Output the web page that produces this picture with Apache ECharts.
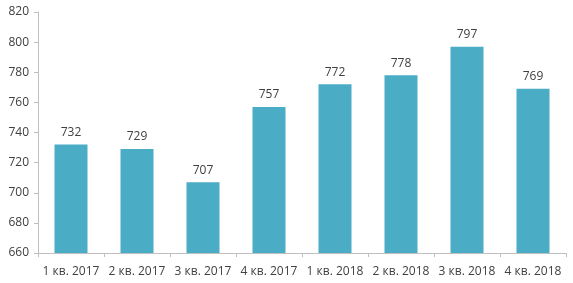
<!DOCTYPE html>
<html><head><meta charset="utf-8">
<script src="https://cdn.jsdelivr.net/npm/echarts@6/dist/echarts.min.js"></script>
<style>html,body{margin:0;padding:0;background:#fff}#c{width:573px;height:283px}</style>
</head><body><div id="c"></div>
<script>
const categories = ["1 кв. 2017","2 кв. 2017","3 кв. 2017","4 кв. 2017","1 кв. 2018","2 кв. 2018","3 кв. 2018","4 кв. 2018"];
const values = [732, 729, 707, 757, 772, 778, 797, 769];
const yMin = 660, yMax = 820, yStep = 20;

const chart = echarts.init(document.getElementById('c'), null, {renderer:'canvas'});
const font = "'Open Sans', 'Noto Sans', sans-serif";
chart.setOption({
  animation:false,
  grid:{left:38, right:7, top:12, bottom:30, containLabel:false},
  xAxis:{type:'category', data:categories,
    axisLine:{show:true, lineStyle:{color:'#bfbfbf', width:1}},
    axisTick:{show:true, alignWithLabel:false, length:4, lineStyle:{color:'#bfbfbf'}},
    axisLabel:{color:'#404040', fontFamily:font, fontSize:12, margin:13, interval:0}},
  yAxis:{type:'value', min:yMin, max:yMax, interval:yStep,
    splitLine:{show:false},
    axisLine:{show:true, lineStyle:{color:'#bfbfbf', width:1}},
    axisTick:{show:true, length:4, lineStyle:{color:'#bfbfbf'}},
    axisLabel:{color:'#404040', fontFamily:font, fontSize:12, margin:9}},
  series:[{type:'bar', data:values, barWidth:'50%',
    itemStyle:{color:'#4bacc6'},
    label:{show:true, position:'top', distance:6, color:'#404040', fontFamily:font, fontSize:12}}]
});
</script></body></html>
